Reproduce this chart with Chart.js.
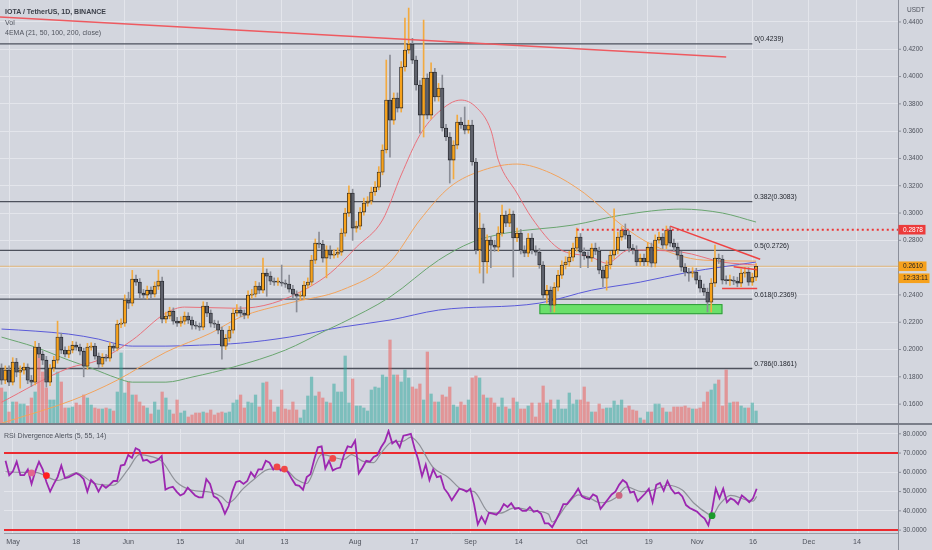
<!DOCTYPE html>
<html>
<head>
<meta charset="utf-8">
<script src="https://cdn.jsdelivr.net/npm/chart.js@4.4.1/dist/chart.umd.min.js"></script>
<style>
html,body{margin:0;padding:0;background:#d3d6de;}
#wrap{position:relative;width:932px;height:550px;overflow:hidden;background:#d3d6de;font-family:"Liberation Sans",Arial,sans-serif;}
canvas{position:absolute;left:0;display:block;}
.t{position:absolute;font-size:7px;line-height:1;color:#50545e;white-space:nowrap;}
#sep{position:absolute;left:0;top:423px;width:932px;height:2px;background:#7a7e89;}
</style>
</head>
<body>
<div id="wrap">
  <canvas id="cPrice" width="932" height="425" style="top:0"></canvas>
  <canvas id="cRsi" width="932" height="125" style="top:425px"></canvas>
  <div id="sep"></div>
  <div class="t" style="left:5px;top:7.5px;font-weight:bold;color:#3a3e48">IOTA / TetherUS, 1D, BINANCE</div>
  <div class="t" style="left:5px;top:19px">Vol</div>
  <div class="t" style="left:5px;top:29px">4EMA (21, 50, 100, 200, close)</div>
  <div class="t" style="left:4px;top:431.5px">RSI Divergence Alerts (5, 55, 14)</div>
</div>
<script>
// ---------- DATA ----------
// day index 0 = 1 May; first candle is day -2 (29 Apr), last is day 200 (17 Nov)
const START_DAY = -2;
const FIRST_OPEN = 0.1864;
const closes = [
  0.1776,0.1849,0.1761,0.1908,0.1834,0.1849,0.1871,0.1776,0.1761,0.2018, // -2..7
  0.1966,0.1922,0.1761,0.1864,0.1922,0.2091,0.1996,0.1966,0.1996,0.2032, // 8..17
  0.2018,0.1988,0.1878,0.2018,0.2025,0.1952,0.1893,0.1944,0.1937,0.2025, // 18..27
  0.2010,0.2186,0.2193,0.2362,0.2340,0.2516,0.2494,0.2413,0.2399,0.2435, // 28..37
  0.2406,0.2465,0.2501,0.2223,0.2245,0.2281,0.2208,0.2193,0.2208,0.2245, // 38..47
  0.2216,0.2179,0.2171,0.2164,0.2318,0.2267,0.2193,0.2186,0.2142,0.2025, // 48..57
  0.2083,0.2142,0.2267,0.2289,0.2267,0.2252,0.2399,0.2406,0.2465,0.2435, // 58..67
  0.2560,0.2538,0.2501,0.2494,0.2494,0.2487,0.2479,0.2443,0.2406,0.2391, // 68..77
  0.2391,0.2472,0.2494,0.2655,0.2780,0.2772,0.2670,0.2729,0.2692,0.2699, // 78..87
  0.2714,0.2853,0.3000,0.3146,0.2890,0.2904,0.3007,0.3073,0.3088,0.3154, // 88..97
  0.3190,0.3300,0.3462,0.3828,0.3681,0.3843,0.3769,0.4070,0.4194,0.4238, // 98..107
  0.4121,0.3938,0.3718,0.3989,0.3718,0.4033,0.3850,0.3916,0.3623,0.3557, // 108..117
  0.3388,0.3498,0.3667,0.3645,0.3608,0.3645,0.3374,0.2729,0.2890,0.2641, // 118..127
  0.2802,0.2765,0.2750,0.2853,0.2985,0.2926,0.2992,0.2817,0.2853,0.2729, // 128..137
  0.2706,0.2817,0.2729,0.2714,0.2619,0.2399,0.2435,0.2325,0.2457,0.2545, // 138..147
  0.2619,0.2641,0.2677,0.2743,0.2824,0.2714,0.2685,0.2670,0.2743,0.2721, // 148..157
  0.2582,0.2523,0.2619,0.2692,0.2729,0.2824,0.2875,0.2838,0.2743,0.2729, // 158..167
  0.2641,0.2670,0.2641,0.2750,0.2633,0.2802,0.2824,0.2765,0.2875,0.2780, // 168..177
  0.2750,0.2692,0.2604,0.2567,0.2560,0.2567,0.2509,0.2450,0.2421,0.2347, // 178..187
  0.2487,0.2670,0.2663,0.2509,0.2505,0.2509,0.2501,0.2487,0.2560,0.2567, // 188..197
  0.2494,0.2531,0.2610                                                   // 198..200
];
const highs = [
  0.1895,0.1880,0.1880,0.1940,0.1935,0.1880,0.1900,0.1895,0.1810,0.2060,
  0.2045,0.1990,0.1950,0.1890,0.1950,0.2208,0.2120,0.2020,0.2025,0.2060,
  0.2055,0.2040,0.2010,0.2045,0.2050,0.2045,0.1975,0.1970,0.1965,0.2050,
  0.2040,0.2215,0.2225,0.2400,0.2420,0.2580,0.2545,0.2520,0.2440,0.2465,
  0.2460,0.2495,0.2582,0.2530,0.2275,0.2310,0.2305,0.2235,0.2240,0.2275,
  0.2270,0.2240,0.2205,0.2195,0.2350,0.2345,0.2290,0.2215,0.2210,0.2165,
  0.2110,0.2170,0.2300,0.2330,0.2315,0.2290,0.2430,0.2440,0.2500,0.2490,
  0.2670,0.2590,0.2570,0.2525,0.2525,0.2619,0.2510,0.2545,0.2470,0.2430,
  0.2420,0.2500,0.2525,0.2690,0.2810,0.2860,0.2800,0.2760,0.2760,0.2730,
  0.2745,0.2885,0.3035,0.3200,0.3175,0.2940,0.3040,0.3110,0.3120,0.3190,
  0.3230,0.3340,0.3500,0.4121,0.4158,0.3880,0.3880,0.4110,0.4429,0.4502,
  0.4280,0.4150,0.3970,0.4414,0.4020,0.4100,0.4060,0.3950,0.4011,0.3650,
  0.3590,0.3530,0.3718,0.3700,0.3777,0.3680,0.3680,0.3400,0.3000,0.2920,
  0.2840,0.2830,0.2800,0.2900,0.3058,0.3015,0.3030,0.3015,0.2890,0.2880,
  0.2760,0.2850,0.2850,0.2760,0.2740,0.2645,0.2470,0.2460,0.2490,0.2580,
  0.2650,0.2680,0.2720,0.2780,0.2890,0.2850,0.2745,0.2715,0.2775,0.2780,
  0.2750,0.2610,0.2650,0.2720,0.3030,0.2860,0.2900,0.2920,0.2870,0.2770,
  0.2760,0.2700,0.2700,0.2785,0.2780,0.2840,0.2860,0.2850,0.2905,0.2900,
  0.2810,0.2780,0.2720,0.2630,0.2595,0.2600,0.2595,0.2540,0.2480,0.2450,
  0.2520,0.2765,0.2700,0.2690,0.2540,0.2545,0.2535,0.2530,0.2590,0.2600,
  0.2600,0.2560,0.2630
];
const lows = [
  0.1745,0.1750,0.1735,0.1740,0.1800,0.1717,0.1820,0.1750,0.1730,0.1740,
  0.1940,0.1890,0.1725,0.1735,0.1840,0.1900,0.1970,0.1945,0.1940,0.1975,
  0.1995,0.1960,0.1800,0.1855,0.1995,0.1930,0.1865,0.1875,0.1915,0.1915,
  0.1990,0.1990,0.2160,0.2170,0.2300,0.2320,0.2470,0.2380,0.2370,0.2370,
  0.2380,0.2385,0.2440,0.2195,0.2195,0.2225,0.2185,0.2170,0.2170,0.2185,
  0.2190,0.2150,0.2150,0.2140,0.2145,0.2240,0.2165,0.2160,0.2115,0.1930,
  0.2000,0.2060,0.2120,0.2245,0.2240,0.2225,0.2230,0.2375,0.2385,0.2410,
  0.2415,0.2390,0.2475,0.2470,0.2470,0.2465,0.2455,0.2420,0.2380,0.2275,
  0.2365,0.2370,0.2450,0.2470,0.2630,0.2745,0.2640,0.2525,0.2665,0.2670,
  0.2675,0.2690,0.2830,0.2975,0.2800,0.2860,0.2880,0.2985,0.3050,0.3065,
  0.3130,0.3170,0.3280,0.3440,0.3410,0.3650,0.3740,0.3740,0.4040,0.4170,
  0.4095,0.3900,0.3585,0.3557,0.3690,0.3690,0.3820,0.3820,0.3600,0.3530,
  0.3220,0.3250,0.3470,0.3620,0.3580,0.3585,0.3350,0.2700,0.2560,0.2487,
  0.2560,0.2600,0.2720,0.2720,0.2830,0.2900,0.2900,0.2531,0.2790,0.2700,
  0.2680,0.2680,0.2700,0.2690,0.2595,0.2370,0.2340,0.2275,0.2275,0.2430,
  0.2520,0.2590,0.2610,0.2650,0.2720,0.2600,0.2660,0.2600,0.2645,0.2695,
  0.2555,0.2460,0.2435,0.2590,0.2665,0.2700,0.2800,0.2810,0.2715,0.2700,
  0.2615,0.2615,0.2615,0.2615,0.2605,0.2605,0.2780,0.2740,0.2740,0.2755,
  0.2720,0.2660,0.2575,0.2540,0.2500,0.2530,0.2480,0.2420,0.2395,0.2275,
  0.2275,0.2460,0.2630,0.2480,0.2480,0.2470,0.2475,0.2460,0.2460,0.2530,
  0.2470,0.2470,0.2505
];
// volume (millions)
const volumes = [
  37,33,13,23,23,21,21,19,27,33,
  73,53,37,25,25,53,43,17,17,18,
  22,20,30,27,20,17,16,16,17,16,
  14,33,72,32,43,30,30,23,19,17,
  11,23,15,33,27,15,11,25,12,14,
  8,10,12,12,13,12,15,10,12,13,
  12,13,22,25,30,17,23,22,30,18,
  42,43,25,13,18,35,16,15,23,15,
  7,15,29,48,29,33,27,23,22,41,
  33,33,69,22,46,19,19,17,14,35,
  38,37,50,48,85,50,50,43,55,47,
  38,36,41,25,73,31,23,23,30,28,
  38,20,18,23,20,25,47,49,47,30,
  27,27,22,18,27,18,16,27,23,16,
  16,19,22,8,22,39,22,25,16,25,
  16,16,32,21,25,25,38,23,13,13,
  21,16,17,17,24,20,25,17,19,15,
  14,7,5,13,13,21,21,17,13,13,
  18,18,18,19,17,16,16,17,23,33,
  35,41,45,19,55,22,23,23,19,17,
  17,22,14
];
const rsi = [
  66,58.5,60.5,65.5,58.5,58.5,61.5,54,60.5,65.5,
  61.5,55,50,54,57.5,63.5,57,57.5,58.5,59.5,
  58.5,56.5,50,56,54,50,53.5,52,53.5,55.5,
  55.5,63.5,64,69,67.5,72.5,71.5,66,66.5,65,
  65.5,66.5,68.5,51,52,52.5,50,48,49,52,
  50,48,47,47,56.5,54,47.5,46.5,43.5,38.5,
  42.5,50,55,55.5,54,55.5,60,57.5,61.5,61.5,
  66,65,61.5,63.5,61,61.5,60,56.5,53.5,53,
  51,57.5,59,66.5,73,73.5,62,66,61,62,
  62.5,69,73.5,73,76.5,59.5,62.5,66,65.5,68,
  69,73,76,81.5,75,76.5,73,79,79.5,80,
  72.5,66.5,58,64,56,61.5,57.5,58,51.5,49,
  45.5,48.5,51.5,51,50,51.5,43.5,33,37,33.5,
  39,38.5,38,40,43.5,42,44,41,41.5,40,
  40,42,39.5,40,38.5,33.5,33.5,31.5,35,39,
  43.5,43.5,46,48.5,51.5,47.5,46.5,46,48.5,47.5,
  41,43.5,46,48.5,50,53.5,56,54.5,49.5,50,
  45,47,49,51.5,44.5,53.5,54.5,50.5,55.5,51.5,
  49,49.5,47.5,43,41.5,40.5,39.5,37.5,36,32.5,
  40.5,51.5,46.5,51.5,44.5,46.5,45.5,43.5,48,46.5,
  44.5,46.5,51.5
];
// RSI signal (gray) read at sample days
const sigDays = [-2,3,6,12,17,22,27,31,34,37,40,44,48,53,56,58,62,65,69,73,76,79,83,89,91,94,97,99,102,105,107,109,113,117,121,124,128,131,135,140,144,145,149,152,155,158,162,165,169,172,176,180,183,187,188,190,193,197,199,200];
const sigVals = [60.3,60,60,55.8,59.7,54.2,53.3,61.7,69.2,68.3,65.8,55,50.8,49.7,47.5,44.2,51.7,56.7,61.7,61.7,56.7,54.2,69.2,66.7,69.2,65.8,65,70,75.8,76.2,78.3,75,62.5,57.5,50.8,50,39.2,38.8,41.7,40,38.3,34.2,43.3,48.3,46.7,44.2,46.7,52.5,50,50.8,53.3,50.8,44.2,38.3,37.5,43.3,48,45.8,45,47.5];
// divergence alert dots
const dotDays = [5,9,71,73,86,163,188];
const dotVals = [59.7,58.3,62.8,61.7,67.2,48,37.5];
const dotColors = ['#e2678d','#ff1f1f','#ef4747','#ef4747','#f04a4a','#cc6580','#1c9a2c'];
// EMAs read at sample days
const ema21Days = [-2,16,24,33,42,47,60,66,75,86,93,100,105,110,115,121,125,129,131,136,140,147,156,160,166,180,191,200];
const ema21 = [0.1614,0.1864,0.1922,0.2069,0.2267,0.2311,0.2303,0.2311,0.2384,0.2560,0.2750,0.2949,0.3279,0.3572,0.3740,0.3828,0.3777,0.3608,0.3388,0.3146,0.2963,0.2743,0.2677,0.2633,0.2729,0.2714,0.2641,0.2619];
const ema50Days = [-2,17,29,42,54,62,75,89,102,110,118,127,136,145,154,164,172,186,200];
const ema50 = [0.1460,0.1629,0.1776,0.1981,0.2120,0.2238,0.2340,0.2435,0.2641,0.2949,0.3190,0.3315,0.3359,0.3293,0.3146,0.2912,0.2770,0.2655,0.2648];
const ema100Days = [-2,7,16,22,29,33,42,49,60,74,85,89,102,115,124,133,151,164,180,191,200];
const ema100 = [0.2091,0.2018,0.1922,0.1864,0.1790,0.1761,0.1761,0.1798,0.1871,0.1996,0.2142,0.2193,0.2385,0.2655,0.2787,0.2853,0.2912,0.2985,0.3029,0.3000,0.2934];
const ema200Days = [-2,7,16,24,29,33,42,51,62,75,89,102,115,142,156,169,182,200];
const ema200 = [0.2150,0.2135,0.2113,0.2076,0.2040,0.2025,0.2025,0.2032,0.2047,0.2091,0.2164,0.2216,0.2289,0.2340,0.2435,0.2494,0.2567,0.2641];
// drawings
const fibRatios = ['0','0.382','0.5','0.618','0.786'];
const fibPrices = [0.4239,0.3083,0.2726,0.2369,0.1861];
const fibEndDay = 199;
const trendLines = [[-2.41,0.4436,192,0.4143],[177,0.2904,201.1,0.2661],[194,0.2606,200.3,0.2585],[190.9,0.2448,200.3,0.2448]];
const resistancePrice = 0.2878, resistanceStartDay = 152;
const zoneDays = [142,191], zonePrices = [0.2259,0.2333];
const countdown = '12:33:11';
// axes
const xTickDays = [0,17,31,45,61,73,92,108,123,136,153,171,184,199,214,227];
const xTickLabels = ['May','18','Jun','15','Jul','13','Aug','17','Sep','14','Oct','19','Nov','16','Dec','14'];
const priceTicks = [0.16,0.18,0.20,0.22,0.24,0.26,0.28,0.30,0.32,0.34,0.36,0.38,0.40,0.42,0.44];
const rsiTicks = [30,40,50,60,70,80];

// ---------- CHARTS ----------
const X_MIN = -2.41, X_MAX = 238;
const GRID = '#e3e5eb', AXIS = '#8b8f9a', LBL = '#4f535d';
const FONT = '"Liberation Sans", Arial, sans-serif';
const opens = [FIRST_OPEN].concat(closes.slice(0, -1));
const days = closes.map((_, i) => START_DAY + i);
const isUp = closes.map((c, i) => c >= opens[i]);

function seg(ctx, x1, y1, x2, y2) { ctx.beginPath(); ctx.moveTo(x1, y1); ctx.lineTo(x2, y2); ctx.stroke(); }
function box(ctx, x, cy, w, bg, fg, txt) {
  ctx.fillStyle = bg; ctx.fillRect(x, cy - 4.8, w, 9.6);
  ctx.fillStyle = fg; ctx.fillText(txt, x + 4.5, cy + 0.3);
}
function emaSet(ds, vs, color) {
  return { type: 'line', yAxisID: 'y', data: ds.map((d, i) => ({ x: d, y: vs[i] })), borderColor: color,
    borderWidth: 1, pointRadius: 0, cubicInterpolationMode: 'monotone', order: 5 };
}

const pricePlugin = {
  id: 'priceDecor',
  beforeDatasetsDraw(chart) {
    const { ctx, scales: { x, y }, chartArea: a } = chart;
    ctx.save();
    const zx1 = x.getPixelForValue(zoneDays[0]), zx2 = x.getPixelForValue(zoneDays[1]);
    const zy1 = y.getPixelForValue(zonePrices[1]), zy2 = y.getPixelForValue(zonePrices[0]);
    ctx.fillStyle = '#6ae06a'; ctx.fillRect(zx1, zy1, zx2 - zx1, zy2 - zy1);
    ctx.strokeStyle = '#2f9a3b'; ctx.lineWidth = 1; ctx.strokeRect(zx1 + 0.5, zy1 + 0.5, zx2 - zx1 - 1, zy2 - zy1 - 1);
    ctx.strokeStyle = '#4d515c'; ctx.lineWidth = 1.3;
    const xe = x.getPixelForValue(fibEndDay);
    fibPrices.forEach(p => { const py = y.getPixelForValue(p); seg(ctx, a.left, py, xe, py); });
    const lp = y.getPixelForValue(closes[closes.length - 1]);
    ctx.strokeStyle = 'rgba(240,158,40,0.55)'; ctx.lineWidth = 1;
    seg(ctx, a.left, lp, a.right, lp);
    ctx.restore();
  },
  afterDatasetsDraw(chart) {
    const { ctx, scales: { x, y }, chartArea: a } = chart;
    ctx.save();
    ctx.beginPath(); ctx.rect(a.left, a.top, a.right - a.left, a.bottom - a.top); ctx.clip();
    ctx.lineWidth = 1.5;
    trendLines.forEach((t, i) => {
      ctx.strokeStyle = i === 0 ? '#ee5a60' : '#ee4242';
      seg(ctx, x.getPixelForValue(t[0]), y.getPixelForValue(t[1]), x.getPixelForValue(t[2]), y.getPixelForValue(t[3]));
    });
    const ry = y.getPixelForValue(resistancePrice);
    ctx.strokeStyle = '#ee3535'; ctx.lineWidth = 2; ctx.setLineDash([2, 3]);
    seg(ctx, x.getPixelForValue(resistanceStartDay), ry, a.right, ry);
    ctx.setLineDash([]);
    ctx.fillStyle = '#23262e'; ctx.font = '6.8px ' + FONT; ctx.textBaseline = 'middle'; ctx.textAlign = 'left';
    const xe = x.getPixelForValue(fibEndDay);
    fibPrices.forEach((p, i) => ctx.fillText(fibRatios[i] + '(' + p.toFixed(4) + ')', xe + 2, y.getPixelForValue(p) - 4.5));
    ctx.restore();
  },
  afterDraw(chart) {
    const { ctx, scales: { y }, chartArea: a } = chart;
    ctx.save();
    ctx.font = '6.5px ' + FONT; ctx.textBaseline = 'middle'; ctx.textAlign = 'left';
    ctx.strokeStyle = AXIS; ctx.lineWidth = 1; ctx.fillStyle = LBL;
    priceTicks.forEach(v => { const py = y.getPixelForValue(v); seg(ctx, a.right, py, a.right + 3, py); ctx.fillText(v.toFixed(4), a.right + 5, py); });
    ctx.fillText('USDT', a.right + 9, 10);
    box(ctx, a.right + 0.5, y.getPixelForValue(resistancePrice), 27, '#ec3b3b', '#ffffff', resistancePrice.toFixed(4));
    const lastP = closes[closes.length - 1], ly = y.getPixelForValue(lastP);
    box(ctx, a.right + 0.5, ly, 28, '#f6a11c', '#1d1f25', lastP.toFixed(4));
    box(ctx, a.right + 0.5, ly + 12, 31, '#f6a11c', '#1d1f25', countdown);
    ctx.restore();
  }
};

new Chart(document.getElementById('cPrice'), {
  type: 'bar',
  data: {
    datasets: [
      { type: 'bar', label: 'Vol', yAxisID: 'yVol', grouped: false, order: 10, barThickness: 2.6,
        data: days.map((d, i) => ({ x: d, y: volumes[i] })),
        backgroundColor: isUp.map(u => u ? 'rgba(38,166,154,0.5)' : 'rgba(239,83,80,0.5)') },
      emaSet(ema21Days, ema21, '#e9717b'),
      emaSet(ema50Days, ema50, '#f2a35c'),
      emaSet(ema100Days, ema100, '#69a56f'),
      emaSet(ema200Days, ema200, '#5a5ad8'),
      { type: 'bar', label: 'wicks', yAxisID: 'y', grouped: false, order: 2, barThickness: 1,
        data: days.map((d, i) => ({ x: d, y: [lows[i], highs[i]] })),
        backgroundColor: isUp.map(u => u ? '#f2aa40' : '#8a8d96') },
      { type: 'bar', label: 'IOTA/USDT', yAxisID: 'y', grouped: false, order: 1, barThickness: 3.4,
        minBarLength: 1, borderSkipped: false, borderWidth: 0.8, borderColor: '#22242a',
        data: days.map((d, i) => ({ x: d, y: [opens[i], closes[i]] })),
        backgroundColor: isUp.map(u => u ? '#f7a21b' : '#5e616b') }
    ]
  },
  options: {
    responsive: false, animation: false, events: [],
    layout: { padding: 0 },
    plugins: { legend: { display: false }, tooltip: { enabled: false } },
    scales: {
      x: { type: 'linear', min: X_MIN, max: X_MAX, bounds: 'data', offset: false,
        grid: { color: GRID, drawTicks: false, offset: false }, border: { display: false },
        ticks: { display: false },
        afterBuildTicks: s => { s.ticks = xTickDays.map(v => ({ value: v })); },
        afterFit: s => { s.height = 0; } },
      y: { position: 'right', min: 0.1447, max: 0.4561, bounds: 'data',
        grid: { color: GRID, drawTicks: false }, border: { display: true, color: AXIS },
        ticks: { display: false },
        afterBuildTicks: s => { s.ticks = priceTicks.map(v => ({ value: v })); },
        afterFit: s => { s.width = 34; } },
      yVol: { display: false, position: 'left', min: 0, max: 425 }
    }
  },
  plugins: [pricePlugin]
});

const rsiPlugin = {
  id: 'rsiDecor',
  afterDraw(chart) {
    const { ctx, scales: { x, y }, chartArea: a } = chart;
    ctx.save();
    ctx.font = '6.5px ' + FONT; ctx.textBaseline = 'middle'; ctx.textAlign = 'left';
    ctx.strokeStyle = AXIS; ctx.lineWidth = 1; ctx.fillStyle = LBL;
    rsiTicks.forEach(v => { const py = y.getPixelForValue(v); seg(ctx, a.right, py, a.right + 3, py); ctx.fillText(v.toFixed(4), a.right + 5, py); });
    seg(ctx, a.right + 0.5, 0, a.right + 0.5, chart.height);
    ctx.textAlign = 'center'; ctx.font = '7.2px ' + FONT;
    xTickDays.forEach((d, i) => ctx.fillText(xTickLabels[i], x.getPixelForValue(d), a.bottom + 9.5));
    ctx.restore();
  }
};

new Chart(document.getElementById('cRsi'), {
  type: 'line',
  data: {
    datasets: [
      { label: '70', data: [{ x: X_MIN, y: 70 }, { x: X_MAX, y: 70 }], borderColor: '#ec2a2f', borderWidth: 2, pointRadius: 0, order: 6 },
      { label: '30', data: [{ x: X_MIN, y: 30 }, { x: X_MAX, y: 30 }], borderColor: '#ec2a2f', borderWidth: 2, pointRadius: 0, order: 6 },
      { label: 'signal', data: sigDays.map((d, i) => ({ x: d, y: sigVals[i] })), borderColor: '#8f9299', borderWidth: 1.2,
        pointRadius: 0, cubicInterpolationMode: 'monotone', order: 4 },
      { label: 'RSI', data: days.map((d, i) => ({ x: d, y: rsi[i] })), borderColor: '#9c27b0', borderWidth: 1.8,
        pointRadius: 0, tension: 0, order: 3 },
      { label: 'alerts', data: dotDays.map((d, i) => ({ x: d, y: dotVals[i] })), showLine: false,
        pointRadius: 3.4, pointBorderWidth: 0, pointBackgroundColor: dotColors, order: 1 }
    ]
  },
  options: {
    responsive: false, animation: false, events: [],
    layout: { padding: 0 },
    plugins: { legend: { display: false }, tooltip: { enabled: false } },
    scales: {
      x: { type: 'linear', min: X_MIN, max: X_MAX, bounds: 'data', offset: false,
        grid: { color: GRID, drawTicks: false }, border: { display: true, color: '#9a9ea8' },
        ticks: { display: false },
        afterBuildTicks: s => { s.ticks = xTickDays.map(v => ({ value: v })); },
        afterFit: s => { s.height = 17; } },
      y: { position: 'right', min: 28.5, max: 82.5, bounds: 'data',
        grid: { color: GRID, drawTicks: false }, border: { display: true, color: AXIS },
        ticks: { display: false },
        afterBuildTicks: s => { s.ticks = rsiTicks.map(v => ({ value: v })); },
        afterFit: s => { s.width = 34; } }
    }
  },
  plugins: [rsiPlugin]
});
</script>
</body>
</html>
